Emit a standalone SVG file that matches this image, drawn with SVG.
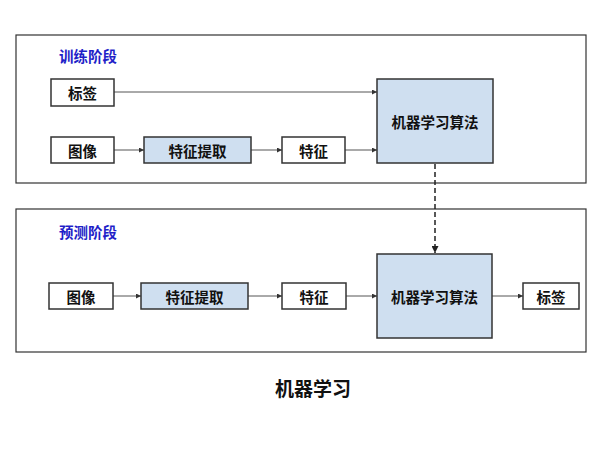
<svg xmlns="http://www.w3.org/2000/svg" width="600" height="450" viewBox="0 0 600 450">
<defs>
<style>
.frame{fill:#ffffff;stroke:#333333;stroke-width:1.2}
.box{fill:#ffffff;stroke:#333333;stroke-width:1.5}
.hl{fill:#cfdff0;stroke:#333333;stroke-width:1.5}
.t{font-family:"Noto Sans CJK SC","Liberation Sans",sans-serif;font-weight:bold;font-size:14.5px;fill:#111111;text-anchor:middle;dominant-baseline:central}
.stage{font-family:"Noto Sans CJK SC","Liberation Sans",sans-serif;font-weight:bold;font-size:14.5px;fill:#1f1fc8;dominant-baseline:central}
.c{fill:none;stroke:#555555;stroke-width:1}
.d{fill:none;stroke:#222222;stroke-width:1.5;stroke-dasharray:5,3}
</style>
<marker id="ah" viewBox="0 0 6 6" refX="6" refY="3" markerWidth="5" markerHeight="5" orient="auto" markerUnits="userSpaceOnUse">
<path d="M0,0 L6,3 L0,6 Z" fill="#333333"/>
</marker>
<marker id="ahd" viewBox="0 0 6 6" refX="6" refY="3" markerWidth="7" markerHeight="7" orient="auto" markerUnits="userSpaceOnUse">
<path d="M0,0 L6,3 L0,6 Z" fill="#222222"/>
</marker>
</defs>
<rect width="600" height="450" fill="#ffffff"/>

<g id="train-stage">
<rect class="frame" x="16" y="35" width="570" height="148"/>
<text class="stage" x="59" y="55">训练阶段</text>
</g>
<g id="predict-stage">
<rect class="frame" x="16" y="209" width="570" height="143"/>
<text class="stage" x="59" y="231">预测阶段</text>
</g>

<g id="connectors">
<line class="c" x1="114" y1="92" x2="377" y2="92" marker-end="url(#ah)"/>
<line class="c" x1="114" y1="150" x2="144" y2="150" marker-end="url(#ah)"/>
<line class="c" x1="251" y1="150" x2="282" y2="150" marker-end="url(#ah)"/>
<line class="c" x1="345" y1="150" x2="377" y2="150" marker-end="url(#ah)"/>
<line class="d" x1="435" y1="164" x2="435" y2="253" marker-end="url(#ahd)"/>
<line class="c" x1="113" y1="296" x2="141" y2="296" marker-end="url(#ah)"/>
<line class="c" x1="248" y1="296" x2="282" y2="296" marker-end="url(#ah)"/>
<line class="c" x1="346" y1="296" x2="377" y2="296" marker-end="url(#ah)"/>
<line class="c" x1="492" y1="296" x2="523" y2="296" marker-end="url(#ah)"/>
</g>

<g id="train-label">
<rect class="box" x="51" y="79" width="63" height="27"/>
<text class="t" x="82.5" y="92.5">标签</text>
</g>
<g id="train-image">
<rect class="box" x="51" y="137" width="63" height="26"/>
<text class="t" x="82.5" y="150">图像</text>
</g>
<g id="train-extract">
<rect class="hl" x="144" y="137" width="107" height="26"/>
<text class="t" x="197.5" y="150">特征提取</text>
</g>
<g id="train-feature">
<rect class="box" x="282" y="137" width="63" height="26"/>
<text class="t" x="313.5" y="150">特征</text>
</g>
<g id="train-ml">
<rect class="hl" x="377" y="79" width="116" height="84"/>
<text class="t" x="435" y="121">机器学习算法</text>
</g>

<g id="predict-image">
<rect class="box" x="49" y="283" width="64" height="26"/>
<text class="t" x="81" y="296">图像</text>
</g>
<g id="predict-extract">
<rect class="hl" x="141" y="283" width="107" height="26"/>
<text class="t" x="194.5" y="296">特征提取</text>
</g>
<g id="predict-feature">
<rect class="box" x="282" y="283" width="64" height="26"/>
<text class="t" x="314" y="296">特征</text>
</g>
<g id="predict-ml">
<rect class="hl" x="377" y="254" width="115" height="84"/>
<text class="t" x="434.5" y="296">机器学习算法</text>
</g>
<g id="predict-label">
<rect class="box" x="523" y="283" width="56" height="26"/>
<text class="t" x="551" y="296">标签</text>
</g>

<text x="313" y="387" font-family="Noto Sans CJK SC,Liberation Sans,sans-serif" font-weight="bold" font-size="19" fill="#111111" text-anchor="middle" dominant-baseline="central">机器学习</text>
</svg>
